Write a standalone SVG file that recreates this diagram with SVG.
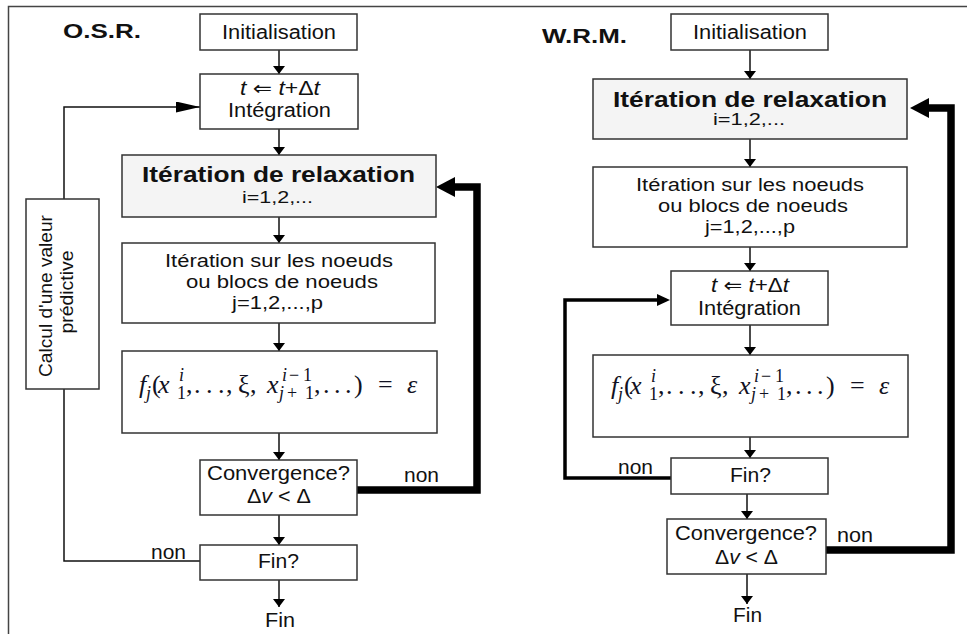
<svg xmlns="http://www.w3.org/2000/svg" width="967" height="634" viewBox="0 0 967 634">
  <style>
    .box { fill: #ffffff; stroke: #333333; stroke-width: 1.5; }
    .hdr { fill: #f4f4f4; stroke: #333333; stroke-width: 1.5; }
    .frame { fill: none; stroke: #444444; stroke-width: 1.5; }
    .link { fill: none; stroke: #111111; stroke-width: 1.5; }
    .mid { fill: none; stroke: #000000; stroke-width: 3.5; }
    .thick { fill: none; stroke: #000000; stroke-width: 7.5; }
    text { font-family: "Liberation Sans", Arial, "DejaVu Sans", sans-serif; font-size: 19.5px; fill: #111111; }
    .c { text-anchor: middle; }
    .bold { font-weight: bold; font-size: 22px; }
    .title { font-weight: bold; font-size: 20px; }
    .small { font-size: 16px; }
    .line { font-size: 17.5px; }
    .lbl { font-size: 21px; }
    .i { font-style: italic; }
    .eq text { font-family: "Liberation Serif", "Times New Roman", "DejaVu Serif", serif; font-size: 26px; fill: #111122; }
    .eq .it { font-style: italic; }
    .eq .sm { font-size: 18px; }
  </style>
  <defs>
    <!-- thin arrowhead: tip sits on the path end -->
    <marker id="ah" markerUnits="userSpaceOnUse" viewBox="0 0 10 10" preserveAspectRatio="none" refX="10" refY="5" markerWidth="8" markerHeight="12" orient="auto">
      <path d="M0,0 L10,5 L0,10 z" fill="#000"/>
    </marker>
    <marker id="ahLong" markerUnits="userSpaceOnUse" viewBox="0 0 10 10" preserveAspectRatio="none" refX="10" refY="5" markerWidth="24" markerHeight="11" orient="auto">
      <path d="M0,0 L10,5 L0,10 z" fill="#000"/>
    </marker>
    <!-- wide arrowheads: base sits on the path end -->
    <marker id="ahMid" markerUnits="userSpaceOnUse" viewBox="0 0 10 10" preserveAspectRatio="none" refX="0" refY="5" markerWidth="13" markerHeight="12" orient="auto">
      <path d="M0,0 L10,5 L0,10 z" fill="#000"/>
    </marker>
    <marker id="ahBig" markerUnits="userSpaceOnUse" viewBox="0 0 10 10" preserveAspectRatio="none" refX="0" refY="5" markerWidth="19" markerHeight="20" orient="auto">
      <path d="M0,0 L10,5 L0,10 z" fill="#000"/>
    </marker>
  </defs>

  <!-- page frame (left and top rules) -->
  <path class="frame" d="M8.5,634 V6.5 H967"/>

  <!-- panel titles -->
  <text class="title" x="63" y="38" textLength="78" lengthAdjust="spacingAndGlyphs">O.S.R.</text>
  <text class="title" x="542" y="43" textLength="85" lengthAdjust="spacingAndGlyphs">W.R.M.</text>

  <!-- connectors -->
  <g id="connectors">
    <!-- O.S.R. main flow -->
    <path class="link" marker-end="url(#ah)" d="M279,50 V74"/>
    <path class="link" marker-end="url(#ah)" d="M279,129 V155"/>
    <path class="link" marker-end="url(#ah)" d="M279,217 V243"/>
    <path class="link" marker-end="url(#ah)" d="M279,323 V351"/>
    <path class="link" marker-end="url(#ah)" d="M279,433 V460"/>
    <path class="link" marker-end="url(#ah)" d="M279,515 V545"/>
    <path class="link" marker-end="url(#ah)" d="M279,580 V607"/>
    <!-- O.S.R. relaxation loop -->
    <path class="thick" marker-end="url(#ahBig)" d="M357,490 H477 V187 H455"/>
    <!-- O.S.R. time-step loop through the predictor -->
    <path class="link" d="M200,561 H64 V389"/>
    <path class="link" marker-end="url(#ahLong)" d="M64,199 V107 H200"/>

    <!-- W.R.M. main flow -->
    <path class="link" marker-end="url(#ah)" d="M750,50 V79"/>
    <path class="link" marker-end="url(#ah)" d="M750,139 V167"/>
    <path class="link" marker-end="url(#ah)" d="M750,247 V271"/>
    <path class="link" marker-end="url(#ah)" d="M750,325 V355"/>
    <path class="link" marker-end="url(#ah)" d="M750,437 V458"/>
    <path class="link" marker-end="url(#ah)" d="M747,494 V519"/>
    <path class="link" marker-end="url(#ah)" d="M747,574 V604"/>
    <!-- W.R.M. time-step loop -->
    <path class="mid" marker-end="url(#ahMid)" d="M671,478 H565 V300 H657"/>
    <!-- W.R.M. relaxation loop -->
    <path class="thick" marker-end="url(#ahBig)" d="M826,550 H951 V108 H929"/>
  </g>

  <!-- connector labels -->
  <text class="lbl" x="404" y="482" textLength="35" lengthAdjust="spacingAndGlyphs">non</text>
  <text class="lbl" x="151" y="559" textLength="35" lengthAdjust="spacingAndGlyphs">non</text>
  <text class="lbl" x="618" y="474" textLength="35" lengthAdjust="spacingAndGlyphs">non</text>
  <text class="lbl" x="837" y="542" textLength="36" lengthAdjust="spacingAndGlyphs">non</text>

  <!-- ===== O.S.R. nodes ===== -->
  <g id="osr-init">
    <rect class="box" x="200" y="14" width="157" height="36"/>
    <text class="c" x="279" y="39" textLength="114" lengthAdjust="spacingAndGlyphs">Initialisation</text>
  </g>
  <g id="osr-integ">
    <rect class="box" x="200" y="74" width="158" height="55"/>
    <text class="c" x="280" y="95" textLength="80" lengthAdjust="spacingAndGlyphs"><tspan class="i">t</tspan> ⇐ <tspan class="i">t</tspan>+Δ<tspan class="i">t</tspan></text>
    <text class="c" x="279.5" y="117" textLength="103" lengthAdjust="spacingAndGlyphs">Intégration</text>
  </g>
  <g id="osr-relax">
    <rect class="hdr" x="122" y="155" width="314" height="62"/>
    <text class="c bold" x="278.5" y="182" textLength="273" lengthAdjust="spacingAndGlyphs">Itération de relaxation</text>
    <text class="c small" x="277.5" y="203" textLength="71" lengthAdjust="spacingAndGlyphs">i=1,2,...</text>
  </g>
  <g id="osr-nodes">
    <rect class="box" x="122" y="243" width="313" height="80"/>
    <text class="c line" x="279" y="267" textLength="228" lengthAdjust="spacingAndGlyphs">Itération sur les noeuds</text>
    <text class="c line" x="282" y="288" textLength="192" lengthAdjust="spacingAndGlyphs">ou blocs de noeuds</text>
    <text class="c line" x="277.5" y="309" textLength="91" lengthAdjust="spacingAndGlyphs">j=1,2,...,p</text>
  </g>
  <g id="osr-eq" class="eq">
    <rect class="box" x="122" y="351" width="315" height="82"/>
    <text>
      <tspan x="139" y="393" class="it">f</tspan><tspan x="146" y="399" class="it sm">j</tspan><tspan x="152" y="393">(</tspan><tspan x="158" y="393" class="it">x</tspan><tspan x="179" y="381" class="it sm">i</tspan><tspan x="177" y="399" class="sm">1</tspan><tspan x="186" y="393">,</tspan><tspan x="194" y="393">.</tspan><tspan x="206" y="393">.</tspan><tspan x="218" y="393">.</tspan><tspan x="226" y="393">,</tspan><tspan x="238" y="393">ξ</tspan><tspan x="250" y="393">,</tspan><tspan x="267" y="393" class="it">x</tspan><tspan x="282" y="381" class="it sm">i</tspan><tspan x="289" y="381" class="sm">−</tspan><tspan x="303" y="381" class="sm">1</tspan><tspan x="279" y="399" class="it sm">j</tspan><tspan x="287" y="399" class="sm">+</tspan><tspan x="305" y="399" class="sm">1</tspan><tspan x="314" y="393">,</tspan><tspan x="323" y="393">.</tspan><tspan x="334" y="393">.</tspan><tspan x="345" y="393">.</tspan><tspan x="354" y="393">)</tspan><tspan x="378" y="393">=</tspan><tspan x="407" y="393" class="it">ε</tspan>
    </text>
  </g>
  <g id="osr-conv">
    <rect class="box" x="200" y="460" width="157" height="55"/>
    <text class="c" x="278.5" y="480" textLength="143" lengthAdjust="spacingAndGlyphs">Convergence?</text>
    <text class="c" x="279" y="503" textLength="64" lengthAdjust="spacingAndGlyphs">Δ<tspan class="i">v</tspan> &lt; Δ</text>
  </g>
  <g id="osr-end">
    <rect class="box" x="200" y="545" width="157" height="35"/>
    <text class="c" x="278.5" y="568" textLength="41" lengthAdjust="spacingAndGlyphs">Fin?</text>
  </g>
  <g id="osr-fin">
    <text class="c" x="280" y="627" textLength="30" lengthAdjust="spacingAndGlyphs">Fin</text>
  </g>
  <g id="osr-predict">
    <rect class="box" x="26" y="199" width="73" height="190"/>
    <text class="c line" transform="translate(52,296) rotate(-90)" textLength="162" lengthAdjust="spacingAndGlyphs">Calcul d'une valeur</text>
    <text class="c line" transform="translate(73,292) rotate(-90)" textLength="83" lengthAdjust="spacingAndGlyphs">prédictive</text>
  </g>

  <!-- ===== W.R.M. nodes ===== -->
  <g id="wrm-init">
    <rect class="box" x="671" y="14" width="157" height="36"/>
    <text class="c" x="750" y="39" textLength="114" lengthAdjust="spacingAndGlyphs">Initialisation</text>
  </g>
  <g id="wrm-relax">
    <rect class="hdr" x="593" y="79" width="314" height="60"/>
    <text class="c bold" x="750" y="107" textLength="274" lengthAdjust="spacingAndGlyphs">Itération de relaxation</text>
    <text class="c small" x="749" y="125" textLength="72" lengthAdjust="spacingAndGlyphs">i=1,2,...</text>
  </g>
  <g id="wrm-nodes">
    <rect class="box" x="593" y="167" width="314" height="80"/>
    <text class="c line" x="750" y="191" textLength="228" lengthAdjust="spacingAndGlyphs">Itération sur les noeuds</text>
    <text class="c line" x="753" y="212" textLength="190" lengthAdjust="spacingAndGlyphs">ou blocs de noeuds</text>
    <text class="c line" x="750" y="233" textLength="90" lengthAdjust="spacingAndGlyphs">j=1,2,...,p</text>
  </g>
  <g id="wrm-integ">
    <rect class="box" x="671" y="271" width="157" height="54"/>
    <text class="c" x="750" y="292" textLength="78" lengthAdjust="spacingAndGlyphs"><tspan class="i">t</tspan> ⇐ <tspan class="i">t</tspan>+Δ<tspan class="i">t</tspan></text>
    <text class="c" x="749.5" y="315" textLength="103" lengthAdjust="spacingAndGlyphs">Intégration</text>
  </g>
  <g id="wrm-eq" class="eq">
    <rect class="box" x="593" y="355" width="315" height="82"/>
    <text transform="translate(472,1)">
      <tspan x="139" y="393" class="it">f</tspan><tspan x="146" y="399" class="it sm">j</tspan><tspan x="152" y="393">(</tspan><tspan x="158" y="393" class="it">x</tspan><tspan x="179" y="381" class="it sm">i</tspan><tspan x="177" y="399" class="sm">1</tspan><tspan x="186" y="393">,</tspan><tspan x="194" y="393">.</tspan><tspan x="206" y="393">.</tspan><tspan x="218" y="393">.</tspan><tspan x="226" y="393">,</tspan><tspan x="238" y="393">ξ</tspan><tspan x="250" y="393">,</tspan><tspan x="267" y="393" class="it">x</tspan><tspan x="282" y="381" class="it sm">i</tspan><tspan x="289" y="381" class="sm">−</tspan><tspan x="303" y="381" class="sm">1</tspan><tspan x="279" y="399" class="it sm">j</tspan><tspan x="287" y="399" class="sm">+</tspan><tspan x="305" y="399" class="sm">1</tspan><tspan x="314" y="393">,</tspan><tspan x="323" y="393">.</tspan><tspan x="334" y="393">.</tspan><tspan x="345" y="393">.</tspan><tspan x="354" y="393">)</tspan><tspan x="378" y="393">=</tspan><tspan x="407" y="393" class="it">ε</tspan>
    </text>
  </g>
  <g id="wrm-end">
    <rect class="box" x="671" y="458" width="157" height="36"/>
    <text class="c" x="750.5" y="482" textLength="41" lengthAdjust="spacingAndGlyphs">Fin?</text>
  </g>
  <g id="wrm-conv">
    <rect class="box" x="667" y="519" width="159" height="55"/>
    <text class="c" x="746" y="540" textLength="142" lengthAdjust="spacingAndGlyphs">Convergence?</text>
    <text class="c" x="746.5" y="564" textLength="63" lengthAdjust="spacingAndGlyphs">Δ<tspan class="i">v</tspan> &lt; Δ</text>
  </g>
  <g id="wrm-fin">
    <text class="c" x="747.5" y="622" textLength="29" lengthAdjust="spacingAndGlyphs">Fin</text>
  </g>
</svg>
